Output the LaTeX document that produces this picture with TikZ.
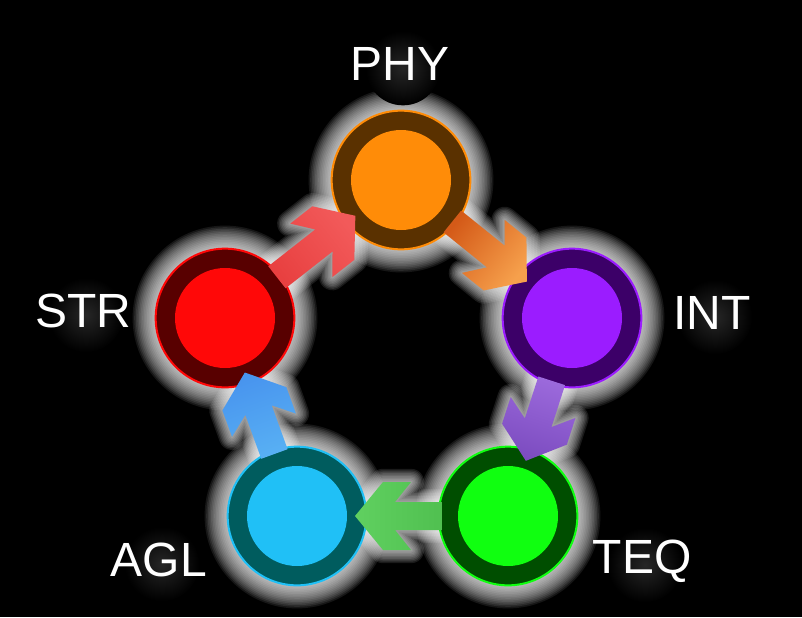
\documentclass[tikz,border=0pt]{standalone}
\usepackage{fontspec}
\setmainfont{Liberation Sans}
\usetikzlibrary{calc}

\pgfdeclarelayer{back}
\pgfdeclarelayer{glow}
\pgfsetlayers{back,glow,main}

\definecolor{phyring}{HTML}{5A3100}
\definecolor{phyin}{HTML}{FF8C08}
\definecolor{intring}{HTML}{3C0068}
\definecolor{intin}{HTML}{9B1CFF}
\definecolor{teqring}{HTML}{004E00}
\definecolor{teqin}{HTML}{10FF10}
\definecolor{aglring}{HTML}{005C5E}
\definecolor{aglin}{HTML}{20C0F6}
\definecolor{strring}{HTML}{580000}
\definecolor{strin}{HTML}{FF0808}
\definecolor{orgA}{HTML}{D45A18}
\definecolor{orgB}{HTML}{F6A04C}
\definecolor{vioA}{HTML}{9C6ADC}
\definecolor{vioB}{HTML}{7C4CC0}
\definecolor{grnA}{HTML}{50C050}
\definecolor{grnB}{HTML}{60D060}
\definecolor{bluA}{HTML}{58B0F4}
\definecolor{bluB}{HTML}{4894EE}
\definecolor{redA}{HTML}{E84040}
\definecolor{redB}{HTML}{F25A5A}

\tikzset{
  stage/.style 2 args={circle, minimum size=104pt, inner sep=0pt, fill=#1, draw=#2, line width=1.5pt,
    path picture={\fill[#2] (path picture bounding box.center) circle (37.5pt);}},
  tag/.style={text=white, inner sep=0pt, font=\fontsize{36}{42}\selectfont},
}

% block arrow: source, target, colour at source, colour at tip, shading angle
\newcommand\flowarrow[5]{%
  \coordinate (fa-s) at ($(#1)!49.5pt!(#2)$);
  \coordinate (fa-t) at ($(#2)!43.5pt!(#1)$);
  \coordinate (fa-f) at ($(fa-t)!21pt!(fa-s)$);
  \coordinate (fa-n) at ($(fa-t)!30pt!(fa-s)$);
  \coordinate (fa-b) at ($(fa-t)!42pt!(fa-s)$);
  \def\fapath{($(fa-s)!10.5pt!90:(fa-t)$) -- ($(fa-n)!10.5pt!90:(fa-t)$) -- ($(fa-b)!25.5pt!90:(fa-t)$)
    -- ($(fa-f)!25.5pt!90:(fa-t)$) -- (fa-t) -- ($(fa-f)!25.5pt!-90:(fa-t)$) -- ($(fa-b)!25.5pt!-90:(fa-t)$)
    -- ($(fa-n)!10.5pt!-90:(fa-t)$) -- ($(fa-s)!10.5pt!-90:(fa-t)$) -- cycle}%
  \begin{pgfonlayer}{glow}
    \foreach \k in {1,...,9}
      \draw[white, opacity=0.1, line width=2.2*\k pt, line join=round] \fapath;
  \end{pgfonlayer}
  \shade[top color=#3, bottom color=#4, shading angle=#5] \fapath;
}

\begin{document}
\begin{tikzpicture}[x=0.75pt,y=-0.75pt]
\begin{pgfonlayer}{back}
\fill[black] (0,0) rectangle (802,617);
\end{pgfonlayer}
\useasboundingbox (0,0) rectangle (802,617);

%Shape: Circle
\node[stage={phyring}{phyin}] (phy) at (401,180) {};
%Shape: Circle
\node[stage={intring}{intin}] (int) at (572,318) {};
%Shape: Circle
\node[stage={teqring}{teqin}] (teq) at (508,516) {};
%Shape: Circle
\node[stage={aglring}{aglin}] (agl) at (297,516) {};
%Shape: Circle
\node[stage={strring}{strin}] (str) at (225,318) {};

% Text Node
\node[tag] (phy-tag) at (400,64) {PHY};
% Text Node
\node[tag] (int-tag) at (712,313) {INT};
% Text Node
\node[tag] (teq-tag) at (642,561) {TEQ};
% Text Node
\node[tag] (agl-tag) at (159,560) {AGL};
% Text Node
\node[tag] (str-tag) at (83,311) {STR};

%Glow
\begin{pgfonlayer}{glow}
\foreach \s in {phy,int,teq,agl,str} {
  \foreach \k in {1,...,14}
    \draw[white, opacity=0.085, line width=2.4*\k pt] (\s) circle (52.5pt);
  \shade[inner color=white!15!black, outer color=black] ($(\s-tag)+(3,4)$) circle (28pt);
}
\end{pgfonlayer}

%Arrows
\flowarrow{phy}{int}{orgA}{orgB}{51.1}
\flowarrow{int}{teq}{vioA}{vioB}{-17.9}
\flowarrow{teq}{agl}{grnA}{grnB}{270}
\flowarrow{agl}{str}{bluA}{bluB}{200}
\flowarrow{str}{phy}{redA}{redB}{128.1}
\end{tikzpicture}
\end{document}
